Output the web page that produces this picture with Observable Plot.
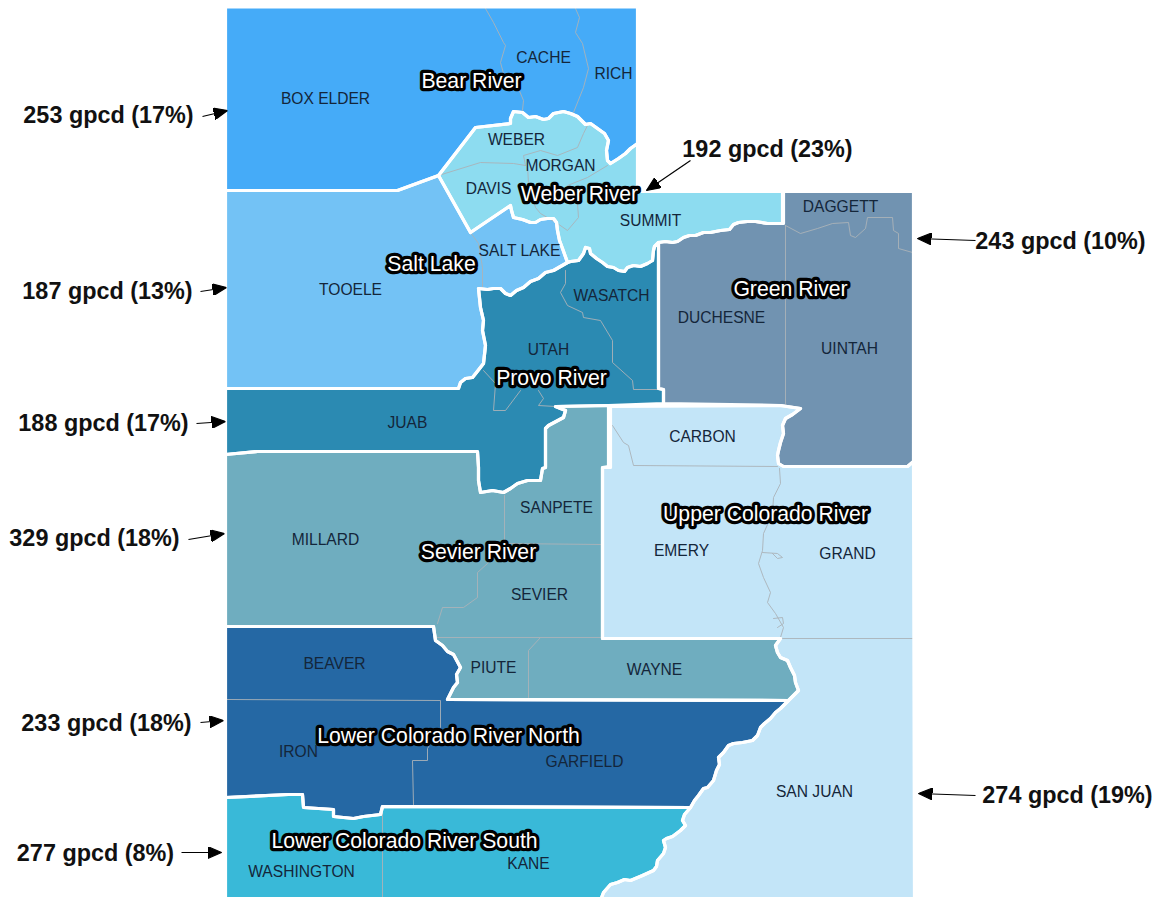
<!DOCTYPE html>
<html>
<head>
<meta charset="utf-8">
<style>html,body{margin:0;padding:0;background:#fff}</style>
<script src="https://cdn.jsdelivr.net/npm/d3@7"></script>
<script src="https://cdn.jsdelivr.net/npm/@observablehq/plot@0.6"></script>
</head>
<body>
<div id="chart"></div>
<script>
// shared region boundaries
const bearWeber = [[637,143],[630,148],[625,153],[618,158],[610,163],[607,160],[606,150],[608,140],[604,133],[597,128],[590,123],[585,124],[577,116],[570,113],[563,111],[553,113],[548,118],[543,119],[535,116],[528,117],[522,112],[513,111],[510,118],[510,123],[475,127],[438,175]];
const bearSalt = [[438,175],[397,190],[225,190]];
const summitGreen = [[782,223],[767,223],[755,221],[747,221],[738,222],[733,224],[729,229],[720,230],[710,232],[703,232],[695,235],[689,235],[683,237],[677,241],[672,242],[665,241],[658,242]];
const summitProvo = [[658,242],[654,246],[653,250],[652,260],[647,263],[640,266],[633,265],[627,267],[624,271],[618,270],[613,267],[607,266],[602,262],[596,258],[590,253],[589,248],[585,247],[583,253],[578,260],[570,261],[567,262]];
const saltWeber = [[567,262],[562,248],[559,240],[557,230],[556,222],[553,218],[547,218],[540,219],[535,222],[530,222],[522,219],[513,217],[511,210],[510,205],[470,232],[438,175]];
const saltProvo = [[567,262],[553,270],[545,272],[538,278],[530,281],[523,287],[516,290],[510,295],[505,293],[500,288],[493,288],[487,289],[478,288],[480,307],[483,320],[482,330],[485,345],[483,363],[476,372],[472,377],[465,378],[460,382],[458,388],[225,388]];
const provoGreen = [[658,242],[658,388],[663,389],[663,403],[608,405]];
const provoSevier = [[608,405],[555,406],[565,410],[563,417],[548,425],[545,428],[545,467],[542,468],[540,480],[527,480],[517,483],[510,488],[503,492],[492,490],[480,492],[478,480],[478,467],[477,451],[257,451],[225,454]];
const carbonGreen = [[783,466],[778,463],[777,455],[778,450],[780,442],[783,433],[782,425],[785,418],[792,414],[800,408],[780,405],[663,403]];
const wayneSanJuan = [[780,638],[775,645],[777,652],[780,657],[787,660],[790,667],[794,675],[795,682],[798,690],[788,700]];
const garfieldSanJuan = [[788,700],[780,708],[775,712],[770,718],[764,723],[760,727],[757,735],[752,740],[742,742],[733,743],[728,745],[723,752],[718,757],[719,764],[716,770],[713,780],[707,787],[703,788],[698,795],[694,800],[690,807]];
const kaneSanJuan = [[690,807],[684,814],[682,820],[685,825],[680,830],[672,836],[666,838],[663,840],[665,847],[663,853],[657,860],[656,866],[653,870],[642,875],[630,880],[624,879],[617,882],[610,884],[603,892],[600,900]];
const beaverPiute = [[433,626],[435,640],[442,645],[447,651],[453,654],[460,667],[456,674],[457,682],[453,687],[447,699]];
const ironKane = [[690,807],[382,806],[380,814],[363,816],[353,818],[333,816],[333,809],[303,807],[302,794],[288,794],[225,797]];
const rev = a => [...a].reverse();

const bearRiver = [[225,6.5],[637,6.5],...bearWeber,...bearSalt];
const weberRiver = [...rev(bearWeber),[637,191],[782,191],...summitGreen,...summitProvo,...saltWeber];
const saltLake = [[225,190],...rev(bearSalt).slice(1),...rev(saltWeber),...saltProvo];
const provoRiver = [...rev(saltProvo),...rev(summitProvo),...provoGreen,...provoSevier];
const greenRiver = [[783,191],[913,191],[913,461],[907,466],...carbonGreen,[663,389],[658,388],...rev(summitGreen),[783,223]];
const upperColorado = [[610,406],[780,405],[800,408],...rev(carbonGreen.slice(0,10)),[907,466],[913,461],[914,900],...rev(kaneSanJuan),...rev(garfieldSanJuan),...rev(wayneSanJuan),[602,638],[602,467],[610,467]];
const sevierRiver = [...rev(provoSevier),[608,466],[602,467],[602,638],...wayneSanJuan,...rev(beaverPiute),[225,626]];
const lowerColoradoNorth = [[225,626],...beaverPiute,...garfieldSanJuan,...ironKane];
const lowerColoradoSouth = [...rev(ironKane),...kaneSanJuan,[225,900]];

const regionNames = ["Bear River","Weber River","Salt Lake","Provo River","Green River","Upper Colorado River","Sevier River","Lower Colorado River North","Lower Colorado River South"];
const regionShapes = [bearRiver,weberRiver,saltLake,provoRiver,greenRiver,upperColorado,sevierRiver,lowerColoradoNorth,lowerColoradoSouth];
const regionColors = ["#45abf8","#8ddcf0","#73c2f5","#2b8ab2","#7193b1","#c3e5f8","#6fadbf","#2568a4","#39b9d8"];
const regionLabelX = [471,579,431,551,790,765,478,448,404];
const regionLabelY = [81,194,264,378,289,514,552,736,841];

const countyLines = [
 [[485,8],[493,22],[503,42],[505,45],[500,62],[503,73],[518,88],[523,100],[522,110]],
 [[575,8],[579,17],[575,32],[582,43],[588,68],[583,87],[573,112]],
 [[438,175],[480,162],[513,163],[525,165]],
 [[525,165],[523,155],[540,150],[557,155],[577,147],[583,133],[587,125]],
 [[527,165],[528,183],[535,207],[540,213],[557,223],[567,230],[578,217],[577,203],[567,185],[587,177],[607,165]],
 [[470,232],[478,243],[482,267],[482,288]],
 [[565,270],[565,283],[560,292],[567,305],[582,312],[583,317],[600,320],[612,340],[612,362],[632,380],[633,389],[658,389]],
 [[483,370],[495,383],[493,410],[505,410],[520,390]],
 [[538,390],[543,398],[538,405],[555,406]],
 [[785,225],[800,233],[817,228],[832,223],[848,222],[850,235],[855,237],[865,228],[867,217],[892,217],[893,230],[898,233],[898,248],[912,252]],
 [[785,225],[785,403]],
 [[612,425],[623,442],[628,445],[633,465],[777,466]],
 [[779,468],[780,483],[773,497],[772,513],[763,533],[762,550],[758,563],[763,577],[770,592],[767,602],[775,613],[783,627],[780,637]],
 [[762,552],[777,553],[782,557],[777,558],[772,553]],
 [[773,618],[782,617],[783,623],[777,627]],
 [[504,495],[504,543],[600,544]],
 [[504,543],[487,563],[477,572],[477,597],[463,607],[442,607],[437,623]],
 [[437,637],[540,637],[600,637]],
 [[540,637],[528,650],[528,697]],
 [[226,699],[440,700],[440,727],[427,748],[427,760],[412,760],[413,804]],
 [[382,813],[382,897]],
 [[780,638],[912,638]]
];

const countyNames = ["BOX ELDER","CACHE","RICH","WEBER","MORGAN","DAVIS","SUMMIT","SALT LAKE","TOOELE","WASATCH","DUCHESNE","UINTAH","UTAH","DAGGETT","CARBON","JUAB","SANPETE","MILLARD","SEVIER","EMERY","GRAND","BEAVER","PIUTE","WAYNE","IRON","GARFIELD","SAN JUAN","WASHINGTON","KANE"];
const countyX = [325,543,613,516,560,488,650,519,350,611,721,849,548,840,702,407,556,325,539,681,847,334,493,654,298,584,814,301,528];
const countyY = [98,57,73,139,165,188,220,250,289,295,317,348,349,206,436,422,507,539,594,550,553,663,667,669,751,761,791,871,863];

const useLabels = ["253 gpcd (17%)","187 gpcd (13%)","188 gpcd (17%)","329 gpcd (18%)","233 gpcd (18%)","277 gpcd (8%)","192 gpcd (23%)","243 gpcd (10%)","274 gpcd (19%)"];
const useX = [108,107,103,94,106,95,767,1060,1067];
const useY = [115,291,423,538,723,853,149,241,795];
const arrowX1 = [202,200,196,188,200,181,690,975,975];
const arrowY1 = [116,291,423,539,722,852,160,240,795];
const arrowX2 = [227,226,225,224,223,221,646,917,918];
const arrowY2 = [110,287,421,533,720,852,190,238,793];

const outlines = regionNames.flatMap((name, i) => {
  const ring = regionShapes[i];
  return [...ring, ring[0]].map(([x, y]) => ({name, x, y}));
});
const countyRows = countyLines.flatMap((line, id) => line.map(([x, y]) => ({id, x, y})));

function arrowHead() {
  const m = d3.create("svg:marker")
    .attr("viewBox", "-14 -6 14 12")
    .attr("markerUnits", "userSpaceOnUse")
    .attr("markerWidth", 14).attr("markerHeight", 12)
    .attr("refX", 0).attr("refY", 0)
    .attr("orient", "auto");
  m.append("path").attr("d", "M-14,-6L0,0L-14,6Z").attr("fill", "#000");
  return m.node();
}

const chart = Plot.plot({
  width: 1159, height: 897,
  margin: 0,
  style: {display: "block", background: "#fff", fontFamily: "'Liberation Sans', Arial, sans-serif"},
  x: {domain: [0, 1159], range: [0, 1159], axis: null},
  y: {domain: [0, 897], range: [0, 897], axis: null},
  color: {domain: regionNames, range: regionColors},
  marks: [
    Plot.line(outlines, {x: "x", y: "y", z: "name", fill: "name", stroke: "none"}),
    Plot.line(countyRows, {x: "x", y: "y", z: "id", stroke: "#aab2b8", strokeWidth: 0.9}),
    Plot.line(outlines, {x: "x", y: "y", z: "name", stroke: "#fff", strokeWidth: 3.2, strokeLinejoin: "round"}),
    Plot.text(countyNames, {x: (d, i) => countyX[i], y: (d, i) => countyY[i], text: d => d, fill: "#14263a", fontSize: 15.6, textAnchor: "middle", lineAnchor: "middle"}),
    Plot.text(regionNames, {x: (d, i) => regionLabelX[i], y: (d, i) => regionLabelY[i], text: d => d, fill: "#fff", stroke: "#000", strokeWidth: 6.5, strokeLinejoin: "round", fontSize: 21.2, textAnchor: "middle", lineAnchor: "middle"}),
    Plot.text(useLabels, {x: (d, i) => useX[i], y: (d, i) => useY[i], text: d => d, fill: "#111", fontWeight: "bold", fontSize: 23.4, textAnchor: "middle", lineAnchor: "middle"}),
    Plot.link(useLabels, {x1: (d, i) => arrowX1[i], y1: (d, i) => arrowY1[i], x2: (d, i) => arrowX2[i], y2: (d, i) => arrowY2[i], stroke: "#000", strokeWidth: 1.2, markerEnd: arrowHead})
  ]
});
document.getElementById("chart").append(chart);
</script>
</body>
</html>
